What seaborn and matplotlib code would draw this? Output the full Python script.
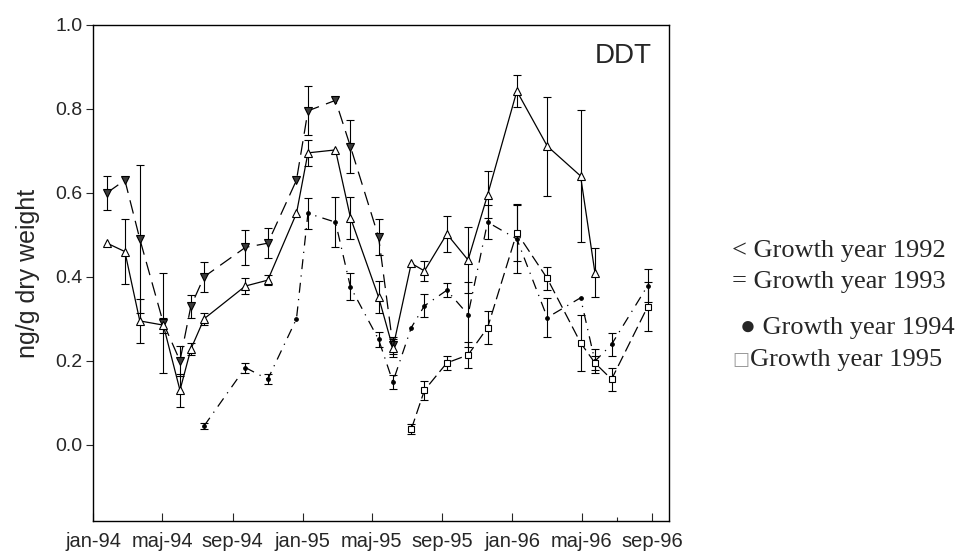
import numpy as np
import pandas as pd
import matplotlib
matplotlib.use("Agg")
import matplotlib.pyplot as plt
import seaborn as sns

# sampling dates (shared by all growth years)
sample_dates = [
    "1994-01-25", "1994-02-25", "1994-03-23", "1994-05-03", "1994-06-01",
    "1994-06-20", "1994-07-13", "1994-09-23", "1994-11-01", "1994-12-21",
    "1995-01-10", "1995-02-27", "1995-03-25", "1995-05-13", "1995-06-07",
    "1995-07-09", "1995-08-01", "1995-09-09", "1995-10-16", "1995-11-19",
    "1996-01-09", "1996-03-02", "1996-04-29", "1996-05-24", "1996-06-22",
    "1996-08-24",
]
nan = np.nan

# DDT, ng/g dry weight, per growth year (mean and error)
gy1992 = [0.60, 0.63, 0.49, 0.29, 0.20, 0.33, 0.40, 0.47, 0.48, 0.63,
          0.795, 0.82, 0.71, 0.495, 0.237, nan, nan, nan, nan, nan,
          nan, nan, nan, nan, nan, nan]
err1992 = [0.04, nan, 0.177, 0.118, 0.035, 0.027, 0.036, 0.041, 0.036, nan,
           0.058, nan, 0.063, 0.042, 0.02, nan, nan, nan, nan, nan,
           nan, nan, nan, nan, nan, nan]
gy1993 = [0.48, 0.46, 0.295, 0.285, 0.13, 0.228, 0.30, 0.378, 0.392, 0.551,
          0.695, 0.702, 0.541, 0.352, 0.23, 0.432, 0.414, 0.502, 0.44, 0.595,
          0.842, 0.711, 0.64, 0.41, nan, nan]
err1993 = [nan, 0.078, 0.053, 0.018, 0.039, 0.014, 0.015, 0.019, 0.012, nan,
           0.031, nan, 0.05, 0.038, 0.022, nan, 0.023, 0.042, 0.078, 0.056,
           0.039, 0.118, 0.157, 0.059, nan, nan]
gy1994 = [nan, nan, nan, nan, nan, nan, 0.045, 0.184, 0.156, 0.30,
          0.551, 0.53, 0.376, 0.251, 0.15, 0.279, 0.331, 0.368, 0.31, 0.53,
          0.49, 0.303, 0.35, 0.199, 0.239, 0.379]
err1994 = [nan, nan, nan, nan, nan, nan, 0.008, 0.012, 0.012, nan,
           0.037, 0.06, 0.032, 0.018, 0.016, nan, 0.027, 0.017, 0.077, 0.04,
           0.08, 0.046, nan, 0.028, 0.028, 0.04]
gy1995 = [nan, nan, nan, nan, nan, nan, nan, nan, nan, nan,
          nan, nan, nan, nan, nan, 0.037, 0.13, 0.195, 0.214, 0.279,
          0.505, 0.396, 0.243, 0.195, 0.156, 0.329]
err1995 = [nan, nan, nan, nan, nan, nan, nan, nan, nan, nan,
           nan, nan, nan, nan, nan, 0.012, 0.023, 0.017, 0.03, 0.039,
           0.068, 0.028, 0.067, 0.016, 0.028, 0.058]

tick_dates = ["1994-01-01", "1994-05-01", "1994-09-01", "1995-01-01", "1995-05-01",
              "1995-09-01", "1996-01-01", "1996-05-01", "1996-09-01"]
tick_labels = ["jan-94", "maj-94", "sep-94", "jan-95", "maj-95",
               "sep-95", "jan-96", "maj-96", "sep-96"]
y_ticks = [0.0, 0.2, 0.4, 0.6, 0.8, 1.0]

legend_lines = ["< Growth year 1992", "= Growth year 1993",
                "\u25cf Growth year 1994", "Growth year 1995"]

sns.set_style("white")
plt.rcParams["font.family"] = ["Liberation Sans", "DejaVu Sans"]

fig = plt.figure(figsize=(9.57, 5.53), dpi=100)
ax = fig.add_axes([0.0975, 0.0573, 0.6015, 0.898])

dates = pd.to_datetime(sample_dates)
styles = [
    (gy1992, err1992, "v", "#3a3a3a", 5.2, (11, 6)),
    (gy1993, err1993, "^", "white", 5.2, None),
    (gy1994, err1994, "o", "black", 2.6, (8, 5, 1, 5)),
    (gy1995, err1995, "s", "white", 3.7, (9, 4)),
]

for vals, errs, mk, fc, ms, dash in styles:
    df = pd.DataFrame({"date": dates, "value": vals, "err": errs}).dropna(subset=["value"])
    ax.errorbar(df["date"], df["value"], yerr=df["err"], fmt="none",
                ecolor="black", elinewidth=0.8, capsize=3, capthick=0.8, zorder=2)
    sns.lineplot(data=df, x="date", y="value", ax=ax, color="black", lw=0.9,
                 marker=mk, markersize=ms, markerfacecolor=fc,
                 markeredgecolor="black", markeredgewidth=0.8,
                 estimator=None, errorbar=None, zorder=3)
    if dash is not None:
        ax.lines[-1].set_dashes(dash)

ax.set_xlim(pd.Timestamp("1994-01-01"), pd.Timestamp("1996-09-30"))
ax.set_ylim(-0.182, 1.0)
ax.set_xticks(pd.to_datetime(tick_dates))
ax.set_xticklabels(tick_labels)
ax.set_xticks([pd.Timestamp("1996-07-01")], minor=True)
ax.set_yticks(y_ticks)
ax.set_yticklabels([f"{v:.1f}" for v in y_ticks])
ax.tick_params(axis="x", which="major", direction="in", length=5.5, width=0.8,
               labelsize=14.5, pad=8, bottom=True)
ax.tick_params(axis="x", which="minor", direction="in", length=3, width=0.8, bottom=True)
ax.tick_params(axis="y", direction="out", length=5, width=0.8, labelsize=14,
               pad=3, left=True)
for s in ax.spines.values():
    s.set_color("black")
    s.set_linewidth(1.0)

ax.set_xlabel("")
ax.set_ylabel("ng/g dry weight", fontsize=18, labelpad=11)

ax.text(0.9705, 0.963, "DDT", transform=ax.transAxes, ha="right", va="top",
        fontsize=20)

serif = ["Liberation Serif", "DejaVu Sans"]
fig.text(732 / 957, 1 - 251 / 553, legend_lines[0], family=serif, fontsize=19, va="center")
fig.text(732 / 957, 1 - 282 / 553, legend_lines[1], family=serif, fontsize=19, va="center")
fig.text(740 / 957, 1 - 328 / 553, legend_lines[2], family=serif, fontsize=19, va="center")
fig.text(732 / 957, 1 - 360 / 553, "\u25a1", family=["DejaVu Sans"], fontsize=13,
         color="#9a9a9a", va="center")
fig.text(750 / 957, 1 - 360 / 553, legend_lines[3], family=serif, fontsize=19, va="center")

fig.savefig("out.png", dpi=100)
